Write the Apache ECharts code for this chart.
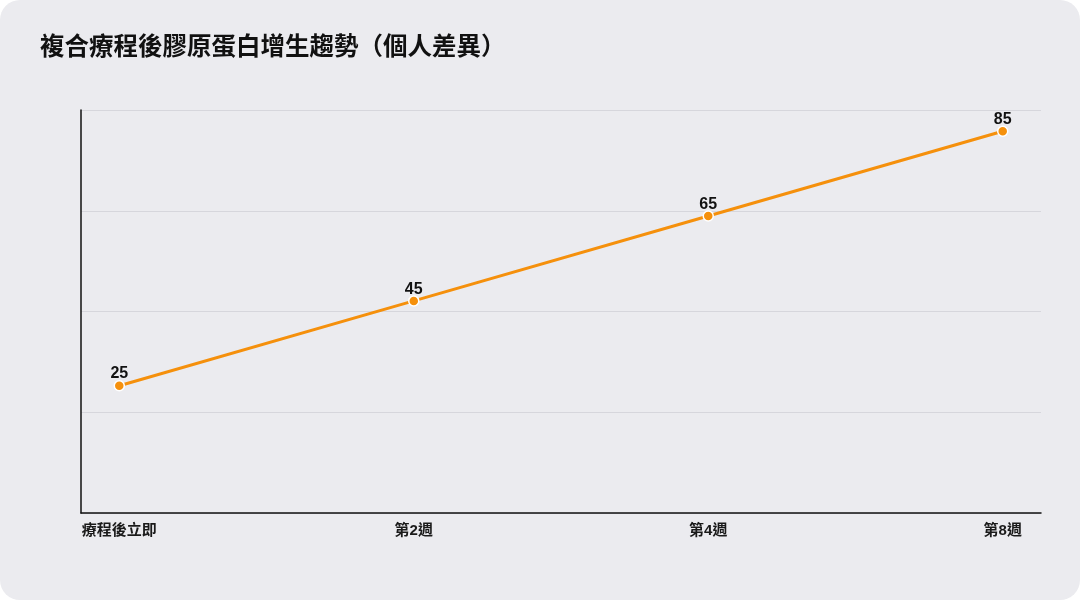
<!DOCTYPE html>
<html>
<head>
<meta charset="utf-8">
<script src="https://cdn.jsdelivr.net/npm/echarts@6/dist/echarts.min.js"></script>
<style>
 html,body{margin:0;padding:0;background:#fff;}
 #chart{width:1080px;height:600px;background:#ebebef;border-radius:20px;overflow:hidden;}
</style>
</head>
<body>
<div id="chart"></div>
<script>
// 資料
var categories=['療程後立即','第2週','第4週','第8週'];
var values=[25,45,65,85];
var yTicks=[-5,18.75,42.5,66.25,90];

var FONT='"Liberation Sans","Noto Sans CJK TC",sans-serif';
var ORANGE='#f5900c';

var chart=echarts.init(document.getElementById('chart'),null,{renderer:'canvas'});
chart.setOption({
 backgroundColor:'transparent',
 animation:false,
 title:{text:'複合療程後膠原蛋白增生趨勢（個人差異）',left:35,top:28,
  textStyle:{fontFamily:'"Noto Sans CJK TC",sans-serif',fontSize:24.5,fontWeight:700,color:'#111'}},
 grid:{left:81,right:39,top:110,bottom:87,containLabel:false},
 xAxis:{type:'value',min:-0.13,max:3.13,
  axisLine:{show:true,onZero:false,lineStyle:{color:'#111',width:1.5}},
  axisTick:{show:false},
  splitLine:{show:false},
  axisLabel:{customValues:[0,1,2,3],margin:10,color:'#1a1a1a',fontSize:15,fontWeight:700,fontFamily:FONT,
   formatter:function(v){return categories[Math.round(v)];}}},
 yAxis:{type:'value',min:-5,max:90,
  axisLine:{show:true,onZero:false,lineStyle:{color:'#111',width:1.5}},
  axisTick:{show:false,customValues:yTicks},
  axisLabel:{show:false},
  splitLine:{show:true,lineStyle:{color:'#d6d6dc',width:1}}},
 series:[{type:'line',
  data:values.map(function(v,i){return [i,v];}),
  symbol:'circle',symbolSize:10,
  lineStyle:{color:ORANGE,width:3},
  itemStyle:{color:ORANGE,borderColor:'#fff',borderWidth:1.5},
  label:{show:true,position:'top',distance:2,offset:[0,4],color:'#111',fontSize:16,fontWeight:700,fontFamily:FONT}
 }]
});
</script>
</body>
</html>
